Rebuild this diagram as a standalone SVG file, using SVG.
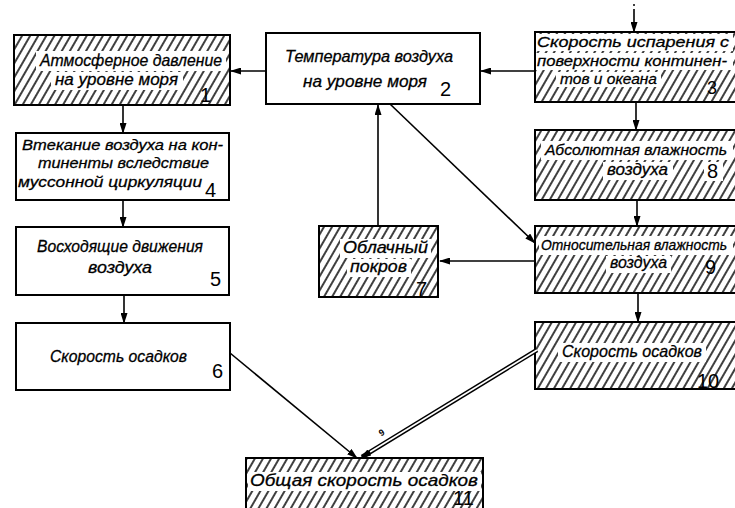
<svg xmlns="http://www.w3.org/2000/svg" width="735" height="508" viewBox="0 0 735 508">
<defs>
<pattern id="hatch" patternUnits="userSpaceOnUse" width="7" height="7" patternTransform="rotate(30)">
<line x1="2" y1="-1" x2="2" y2="8" stroke="#000" stroke-width="1.5"/>
</pattern>
<marker id="ah" markerUnits="userSpaceOnUse" markerWidth="11" markerHeight="7" refX="10" refY="3.5" orient="auto">
<path d="M0,0 L11,3.5 L0,7 z" fill="#000"/>
</marker>
</defs>
<style>
.box{fill:#fff;stroke:#000;stroke-width:2}
.hb{fill:url(#hatch);stroke:#000;stroke-width:2}
.w{fill:#fff}
.t{font-family:"Liberation Sans",Arial,sans-serif;font-style:italic;font-size:17px;fill:#000;stroke:#000;stroke-width:0.3}
.s{font-size:15.5px}
.xs{font-size:14.5px}
.n{font-family:"Liberation Sans",Arial,sans-serif;font-size:20px;fill:#000}
.n18{font-size:18px}
.c{fill:none;stroke:#000;stroke-width:1.6}
</style>
<rect width="735" height="508" fill="#fff"/>

<g id="node1">
<rect class="hb" x="14" y="35" width="216" height="70"/>
<rect class="w" x="36" y="51" width="190" height="20"/>
<rect class="w" x="51" y="72" width="132" height="18"/>
<text class="t" x="40" y="66" textLength="182" lengthAdjust="spacingAndGlyphs">Атмосферное давление</text>
<text class="t" x="55" y="85" textLength="123" lengthAdjust="spacingAndGlyphs">на уровне моря</text>
<text class="n" x="200" y="102">1</text>
</g>

<g id="node2">
<rect class="box" x="266" y="33" width="214" height="71"/>
<text class="t" x="285" y="62" textLength="168" lengthAdjust="spacingAndGlyphs">Температура воздуха</text>
<text class="t" x="303" y="87" textLength="124" lengthAdjust="spacingAndGlyphs">на уровне моря</text>
<text class="n" x="440" y="96">2</text>
</g>

<g id="node3">
<rect class="hb" x="535" y="32" width="210" height="70"/>
<rect class="w" x="536" y="34" width="197" height="17"/>
<rect class="w" x="536" y="53" width="197" height="17"/>
<rect class="w" x="556" y="72" width="105" height="15"/>
<text class="t s" x="537" y="47" textLength="192" lengthAdjust="spacingAndGlyphs">Скорость испарения с</text>
<text class="t s" x="537" y="66" textLength="190" lengthAdjust="spacingAndGlyphs">поверхности континен-</text>
<text class="t s" x="560" y="84" textLength="97" lengthAdjust="spacingAndGlyphs">тов и океана</text>
<text class="n n18" x="707" y="94">3</text>
</g>

<g id="node4">
<rect class="box" x="16" y="133" width="213" height="67"/>
<text class="t s" x="22" y="150" textLength="201" lengthAdjust="spacingAndGlyphs">Втекание воздуха на кон-</text>
<text class="t s" x="38" y="168" textLength="171" lengthAdjust="spacingAndGlyphs">тиненты вследствие</text>
<text class="t s" x="18" y="187" textLength="184" lengthAdjust="spacingAndGlyphs">муссонной циркуляции</text>
<text class="n" x="205" y="197">4</text>
</g>

<g id="node5">
<rect class="box" x="16" y="227" width="213" height="68"/>
<text class="t" x="37" y="252" textLength="166" lengthAdjust="spacingAndGlyphs">Восходящие движения</text>
<text class="t" x="88" y="273" textLength="64" lengthAdjust="spacingAndGlyphs">воздуха</text>
<text class="n" x="210" y="286">5</text>
</g>

<g id="node6">
<rect class="box" x="16" y="323" width="214" height="67"/>
<text class="t" x="50" y="362" textLength="137" lengthAdjust="spacingAndGlyphs">Скорость осадков</text>
<text class="n" x="212" y="378">6</text>
</g>

<g id="node7">
<rect class="hb" x="319" y="226" width="119" height="71"/>
<rect class="w" x="340" y="239" width="91" height="19"/>
<rect class="w" x="347" y="259" width="64" height="18"/>
<text class="t" x="343" y="253" textLength="85" lengthAdjust="spacingAndGlyphs">Облачный</text>
<text class="t" x="350" y="272" textLength="57" lengthAdjust="spacingAndGlyphs">покров</text>
<text class="n" x="416" y="296">7</text>
</g>

<g id="node8">
<rect class="hb" x="535" y="130" width="210" height="70"/>
<rect class="w" x="541" y="141" width="192" height="19"/>
<rect class="w" x="603" y="162" width="70" height="18"/>
<rect class="w" x="704" y="162" width="19" height="19"/>
<text class="t s" x="545" y="155" textLength="182" lengthAdjust="spacingAndGlyphs">Абсолютная влажность</text>
<text class="t" x="607" y="175" textLength="61" lengthAdjust="spacingAndGlyphs">воздуха</text>
<text class="n" x="707" y="178">8</text>
</g>

<g id="node9">
<rect class="hb" x="535" y="226" width="210" height="67"/>
<rect class="w" x="539" y="236" width="194" height="19"/>
<rect class="w" x="606" y="256" width="65" height="17"/>
<text class="t xs" x="541" y="250" textLength="186" lengthAdjust="spacingAndGlyphs">Относительная влажность</text>
<text class="t" x="610" y="268" textLength="57" lengthAdjust="spacingAndGlyphs">воздуха</text>
<text class="n" x="705" y="274">9</text>
</g>

<g id="node10">
<rect class="hb" x="535" y="322" width="210" height="67"/>
<rect class="w" x="558" y="343" width="148" height="19"/>
<text class="t" x="562" y="357" textLength="140" lengthAdjust="spacingAndGlyphs">Скорость осадков</text>
<text class="n" x="697" y="388">10</text>
</g>

<g id="node11">
<rect class="hb" x="246" y="458" width="237" height="60"/>
<rect class="w" x="248" y="472" width="233" height="19"/>
<text class="t" x="250" y="486" textLength="228" lengthAdjust="spacingAndGlyphs">Общая скорость осадков</text>
<text class="n" x="453" y="505">11</text>
</g>

<g id="connectors">
<line class="c" x1="266" y1="71" x2="231" y2="71" marker-end="url(#ah)"/>
<line class="c" x1="535" y1="71" x2="481" y2="71" marker-end="url(#ah)"/>
<line class="c" x1="634" y1="9" x2="634" y2="32" marker-end="url(#ah)"/>
<circle cx="634" cy="5" r="1" fill="#000"/>
<line class="c" x1="123" y1="105" x2="123" y2="133" marker-end="url(#ah)"/>
<line class="c" x1="123" y1="200" x2="123" y2="227" marker-end="url(#ah)"/>
<line class="c" x1="124" y1="295" x2="124" y2="323" marker-end="url(#ah)"/>
<line class="c" x1="636" y1="102" x2="636" y2="130" marker-end="url(#ah)"/>
<line class="c" x1="637" y1="200" x2="637" y2="226" marker-end="url(#ah)"/>
<line class="c" x1="638" y1="293" x2="638" y2="322" marker-end="url(#ah)"/>
<line class="c" x1="378" y1="226" x2="378" y2="105" marker-end="url(#ah)"/>
<line class="c" x1="390" y1="104" x2="535" y2="243" marker-end="url(#ah)"/>
<line class="c" x1="535" y1="261" x2="440" y2="261" marker-end="url(#ah)"/>
<line class="c" x1="230" y1="353" x2="357" y2="458" marker-end="url(#ah)"/>
<line x1="537" y1="350" x2="362" y2="457" stroke="#000" stroke-width="4.5"/>
<line x1="537" y1="350" x2="370" y2="452" stroke="#fff" stroke-width="1.6"/>
<line x1="370" y1="452" x2="361" y2="458" stroke="#000" stroke-width="1.6" marker-end="url(#ah)"/>
<text x="379" y="435" font-family="Liberation Sans, Arial, sans-serif" font-size="9" font-weight="bold" fill="#000" transform="rotate(-30 383 432)">9</text>
</g>
</svg>
